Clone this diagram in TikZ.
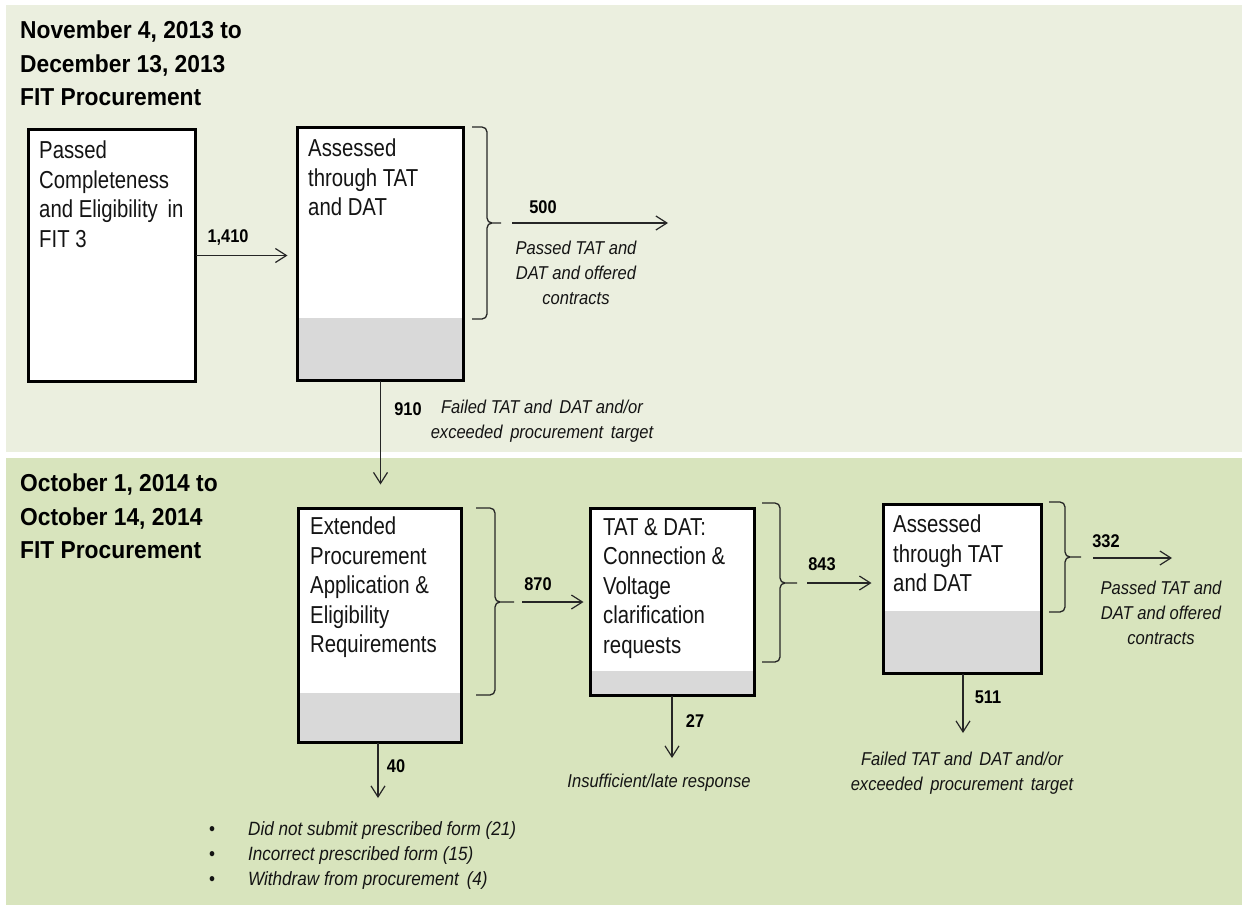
\documentclass[tikz,border=0pt]{standalone}
\usepackage{fontspec}
\setmainfont{Liberation Sans}
\newfontfamily\bodyf[FakeStretch=0.83]{Liberation Sans}
\newfontfamily\titf[FakeStretch=0.93]{Liberation Sans}
\newfontfamily\labf[FakeStretch=0.89]{Liberation Sans}
\usetikzlibrary{arrows.meta}
\definecolor{topbg}{HTML}{EBEFDF}
\definecolor{botbg}{HTML}{D8E4BD}
\definecolor{grayfill}{HTML}{D9D9D9}
\definecolor{ink}{HTML}{141414}
\definecolor{lnc}{HTML}{262626}
\newcommand\mybrace[6]{%
  \draw[brc] (#1,#4) -- ({#2-5},#4) to[out=0,in=90] (#2,{#4+5}) -- (#2,{#5-5})
    to[out=-90,in=180] ({#2+5},#5) -- (#3,#5)
    ({#2+5},#5) to[out=180,in=90] (#2,{#5+5}) -- (#2,{#6-5})
    to[out=-90,in=0] ({#2-5},#6) -- (#1,#6);}
\begin{document}
\begin{tikzpicture}[x=1pt,y=-1pt,
  box/.style={draw=black, line width=3pt, fill=white, inner sep=0pt, outer sep=0pt, anchor=north west},
  gbar/.style={path picture={\fill[grayfill] (path picture bounding box.south west) rectangle ([yshift=#1]path picture bounding box.north east |- path picture bounding box.south east);}},
  boxtext/.style={anchor=north west, inner sep=0pt, align=left, text=ink, font=\bodyf\fontsize{24.5}{29.5}\selectfont},
  title/.style={anchor=north west, inner sep=0pt, align=left, text=black, font=\titf\bfseries\fontsize{24.5}{33.5}\selectfont},
  num/.style={inner sep=0pt, text=black, font=\labf\bfseries\fontsize{18.4}{20}\selectfont},
  lab/.style={inner sep=0pt, align=center, text=ink, font=\labf\itshape\fontsize{18.6}{25}\selectfont},
  arr/.style={draw=lnc, line width=1.2pt, -{Straight Barb[length=11pt,width=14pt,line width=1.2pt]}},
  brc/.style={draw=lnc, line width=1.3pt}]
\useasboundingbox (0,0) rectangle (1243,905);
\fill[white] (0,0) rectangle (1243,905);
\fill[topbg] (6,5) rectangle (1242,452);
\fill[botbg] (6,458) rectangle (1242,905);

% titles
\node[title] (ttop) at (20,21) {November 4, 2013 to\\December 13, 2013\\FIT Procurement};
\node[title] (tbot) at (20,474) {October 1, 2014 to\\October 14, 2014\\FIT Procurement};

% boxes
\node[box, minimum width=167pt, minimum height=252pt] (b1) at (28.5,129.5) {};
\node[box, gbar=63pt, minimum width=166pt, minimum height=253pt] (b2) at (297.5,127.5) {};
\node[box, gbar=50pt, minimum width=163pt, minimum height=234pt] (b3) at (298.5,508.5) {};
\node[box, gbar=25pt, minimum width=164pt, minimum height=187pt] (b4) at (590.5,508.5) {};
\node[box, gbar=63pt, minimum width=158pt, minimum height=169pt] (b5) at (883.5,504.5) {};

% box texts
\node[boxtext] (x1) at (39,141) {Passed\\Completeness\\and Eligibility\, in\\FIT 3};
\node[boxtext] (x2) at (308,139) {Assessed\\through TAT\\and DAT};
\node[boxtext] (x3) at (310,517) {Extended\\Procurement\\Application \&\\Eligibility\\Requirements};
\node[boxtext] (x4) at (603,518) {TAT \& DAT:\\Connection \&\\Voltage\\clarification\\requests};
\node[boxtext] (x5) at (893,515) {Assessed\\through TAT\\and DAT};

% braces
\mybrace{472}{487}{501}{127}{223}{319}
\mybrace{476}{495}{514}{508}{602}{695}
\mybrace{762}{780}{797}{503}{583}{662}
\mybrace{1049}{1065}{1081}{502}{557}{612}

% coordinates for free ends
\coordinate (s500) at (512,223);
\coordinate (e500) at (668,223);
\coordinate (s870) at (522,602);
\coordinate (s843) at (807,583);
\coordinate (s332) at (1093,558);
\coordinate (e332) at (1172,558);
\coordinate (e40) at (378,798);
\coordinate (e27) at (672,758);
\coordinate (e511) at (963,733);

% connectors
\draw[arr, shorten >=10pt] (b1.east) -- (b2.west |- b1.east);
\draw[arr] (s500) -- (e500);
\draw[arr, shorten >=24pt] (b2.south) -- (b2.south |- b3.north);
\draw[arr] (b3.south -| e40) -- (e40);
\draw[arr, shorten >=7pt] (s870) -- (b4.west |- s870);
\draw[arr] (b4.south -| e27) -- (e27);
\draw[arr, shorten >=12pt] (s843) -- (b5.west |- s843);
\draw[arr] (b5.south -| e511) -- (e511);
\draw[arr] (s332) -- (e332);

% numbers
\node[num] (n1410) at (228,237) {1,410};
\node[num] (n500) at (543,207) {500};
\node[num] (n910) at (408,409) {910};
\node[num] (n40) at (396,766) {40};
\node[num] (n870) at (538,584) {870};
\node[num] (n27) at (695,721) {27};
\node[num] (n843) at (822,564) {843};
\node[num] (n511) at (988,697) {511};
\node[num] (n332) at (1106,541) {332};

% labels
\node[lab] (l500) at (576,273) {Passed TAT and\\DAT and offered\\contracts};
\node[lab] (l910) at (542,421) {Failed TAT and\, DAT and/or\\exceeded\, procurement\, target};
\node[lab] (l27) at (659,783) {Insufficient/late response};
\node[lab] (l511) at (962,773) {Failed TAT and\, DAT and/or\\exceeded\, procurement\, target};
\node[lab] (l332) at (1161,613) {Passed TAT and\\DAT and offered\\contracts};
\node[lab, anchor=north west, align=left, font=\labf\itshape\fontsize{19.2}{25}\selectfont] (l40) at (209,821) {%
  \makebox[39pt][l]{\upshape\textbullet}Did not submit prescribed form (21)\\
  \makebox[39pt][l]{\upshape\textbullet}Incorrect prescribed form (15)\\
  \makebox[39pt][l]{\upshape\textbullet}Withdraw from procurement\, (4)};
\end{tikzpicture}
\end{document}
